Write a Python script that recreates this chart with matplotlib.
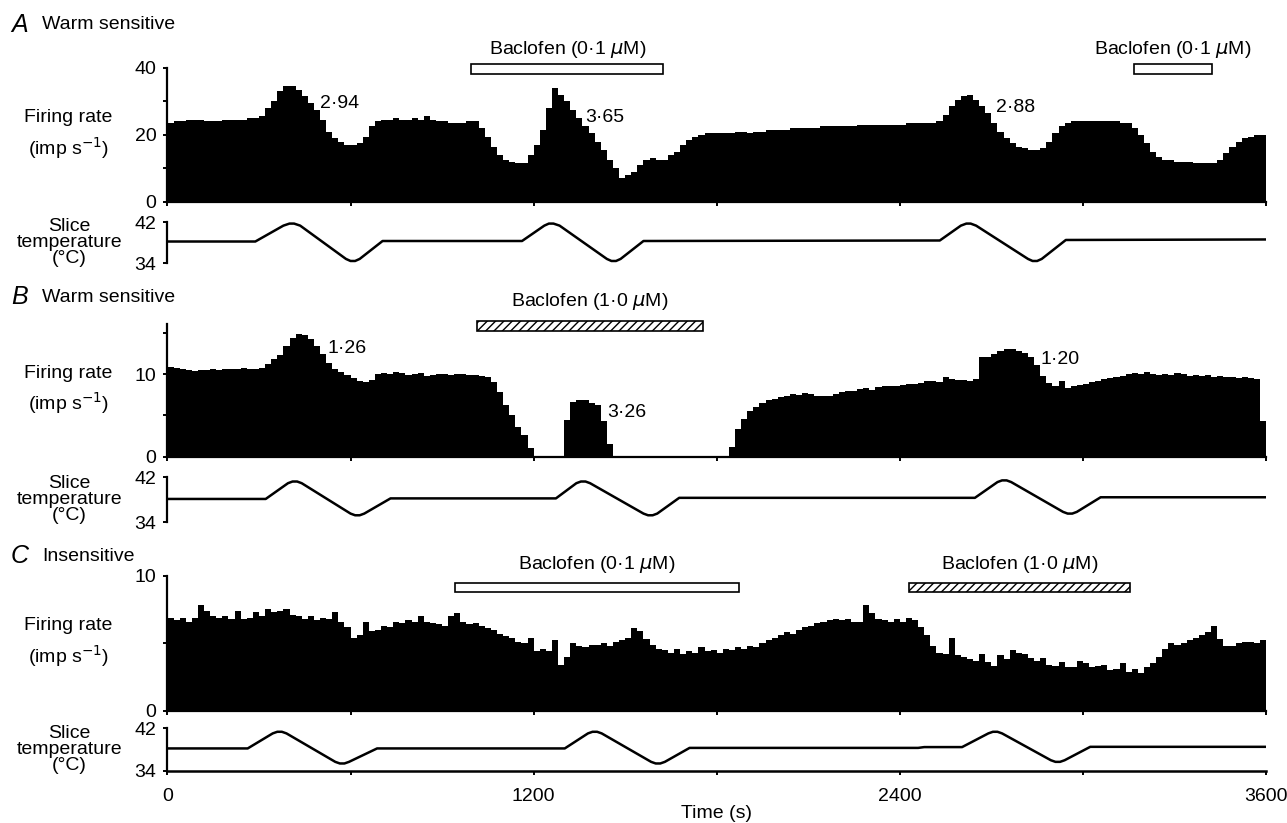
import numpy as np
import matplotlib
matplotlib.use("Agg")
import matplotlib.pyplot as plt
from matplotlib.patches import Rectangle
import matplotlib.transforms as mtransforms

plt.rcParams['font.family'] = ['Liberation Sans', 'DejaVu Sans']
plt.rcParams['mathtext.fontset'] = 'dejavusans'

# bin start times (s), 20 s bins
BIN = 20
t_edges = np.arange(0, 3600 + BIN, BIN)

# Panel A firing rate (imp/s)
rate_A = [23.5, 24, 24, 24.5, 24.5, 24.5, 24, 24, 24, 24.5, 24.5, 24.5, 24.5, 25, 25,
          25.5, 28, 30, 33, 34.5,
          34.5, 33.5, 31.5, 29.5, 27.5,
          24.5, 21, 19, 18, 17,
          17, 17.5, 19.5, 22.5, 24,
          24.5, 24.5, 25, 24.5, 24.5, 25, 24.5, 25.5, 24.5, 24, 24, 23.5, 23.5, 23.5, 24,
          24, 22, 19.5, 16.5, 14,
          12.5, 12, 11.5, 11.5, 14,
          17, 21.5, 28, 34, 32,
          30, 27.5, 25, 22.5, 20.5,
          18, 15.5, 12.5, 10, 7,
          8, 9, 11, 12.5, 13,
          12.5, 12.5, 14, 15, 17,
          18.5, 19.5, 20, 20.5, 20.5,
          20.5, 20.5, 20.5, 21, 21, 20.5, 21, 21, 21.5, 21.5,
          21.5, 21.5, 22, 22, 22, 22, 22, 22.5, 22.5, 22.5,
          22.5, 22.5, 22.5, 23, 23, 23, 23, 23, 23, 23,
          23, 23.5, 23.5, 23.5, 23.5,
          23.5, 24, 26, 28.5, 30.5,
          31.5, 32, 30.5, 28.5, 26.5,
          23.5, 21, 19, 17.5, 16.5,
          16, 15.5, 15.5, 16, 18,
          20.5, 22.5, 23.5, 24, 24,
          24, 24, 24, 24, 24, 24, 23.5, 23.5, 22, 20,
          17.5, 15, 13.5, 12.5, 12.5,
          12, 12, 12, 11.5, 11.5,
          11.5, 11.5, 12.5, 14.5, 16.5,
          18, 19, 19.5, 20, 20]

# Panel B firing rate (imp/s)
rate_B = [10.9, 10.7, 10.6, 10.5, 10.4, 10.5, 10.5, 10.6, 10.5, 10.6, 10.6, 10.6, 10.7, 10.6, 10.6,
          10.7, 11.2, 11.8, 12.3, 13.4,
          14.4, 14.8, 14.7, 14.2, 13.4,
          12.4, 11.3, 10.6, 10.3, 9.9,
          9.5, 9.2, 9.0, 9.3, 10.0,
          10.1, 10.0, 10.2, 10.1, 9.9, 10.0, 10.1, 9.8, 9.9, 10.0, 10.0, 9.9, 10.0, 10.0, 9.9,
          9.9, 9.8, 9.7, 9.0, 7.8,
          6.3, 5.0, 3.6, 2.6, 1.1,
          0, 0, 0, 0, 0,
          4.4, 6.6, 6.8, 6.8, 6.5,
          6.3, 4.3, 1.5, 0, 0,
          0, 0, 0, 0, 0, 0, 0, 0, 0, 0, 0, 0, 0, 0, 0, 0, 0,
          1.2, 3.4, 4.6, 5.5, 6.0, 6.5, 6.8, 7.0,
          7.2, 7.4, 7.6, 7.5, 7.7, 7.6, 7.4, 7.3, 7.4, 7.6,
          7.8, 8.0, 8.0, 8.2, 8.3, 8.1, 8.4, 8.5, 8.6, 8.5,
          8.7, 8.8, 8.8, 8.9, 9.2, 9.1, 9.0, 9.6, 9.4, 9.3,
          9.3, 9.2, 9.4, 12.0, 12.1,
          12.4, 12.8, 13.0, 13.0, 12.8,
          12.6, 12.0, 11.1, 9.8, 8.9,
          8.6, 9.2, 8.3, 8.5, 8.7,
          8.8, 9.0, 9.1, 9.4, 9.5, 9.7, 9.8, 10.0, 10.1, 10.0,
          10.2, 10.0, 9.9, 10.0, 9.9, 10.1, 10.0, 9.8, 9.9, 9.8,
          9.9, 9.7, 9.8, 9.7, 9.6, 9.5, 9.6, 9.5, 9.4, 4.3]

# Panel C firing rate (imp/s)
rate_C = [6.9, 6.7, 6.9, 6.6, 6.9, 7.8, 7.4, 7.0, 6.9, 7.0, 6.8, 7.4, 6.8, 6.9, 7.3,
          7.0, 7.5, 7.3, 7.4, 7.5, 7.1, 7.0, 6.8, 7.0, 6.7,
          6.9, 6.8, 7.3, 6.6, 6.2, 5.4, 5.6, 6.6, 5.9, 6.0,
          6.3, 6.2, 6.6, 6.5, 6.7, 6.6, 7.0, 6.6, 6.5, 6.4,
          6.3, 7.0, 7.2, 6.6, 6.4, 6.5, 6.3, 6.1, 6.0, 5.7,
          5.5, 5.4, 5.1, 5.0, 5.4, 4.4, 4.6, 4.4, 5.2, 3.4,
          4.0, 5.0, 4.8, 4.7, 4.9, 4.9, 5.0, 4.8, 5.1, 5.2,
          5.4, 6.1, 5.9, 5.3, 4.9, 4.6, 4.5, 4.3, 4.6, 4.2,
          4.4, 4.3, 4.7, 4.4, 4.5, 4.3, 4.6, 4.5, 4.7, 4.6,
          4.8, 4.7, 5.0, 5.2, 5.4, 5.6, 5.8, 5.7, 6.0, 6.2,
          6.3, 6.5, 6.6, 6.7, 6.8, 6.7, 6.8, 6.6, 6.6, 7.8,
          7.2, 6.8, 6.7, 6.6, 6.8, 6.6, 6.9, 6.7, 6.2, 5.6,
          4.8, 4.3, 4.2, 5.4, 4.1, 4.0, 3.8, 3.7, 4.2, 3.6,
          3.3, 4.1, 3.8, 4.5, 4.3, 4.2, 3.9, 3.7, 3.9, 3.4,
          3.3, 3.6, 3.2, 3.2, 3.7, 3.5, 3.2, 3.3, 3.4, 3.0,
          3.1, 3.5, 2.9, 3.1, 2.8, 3.2, 3.5, 4.0, 4.6, 5.0,
          4.9, 5.0, 5.2, 5.4, 5.6, 5.8, 6.3, 5.3, 4.8, 4.8,
          5.0, 5.1, 5.1, 5.0, 5.2]

# Slice temperature traces (time s, deg C)
temp_A_t = [0, 288, 380, 400, 415, 435, 585, 600, 615, 630, 705, 1162, 1235, 1250, 1265, 1285, 1440, 1455, 1470, 1485, 1560, 2531, 2600, 2618, 2632, 2650, 2820, 2835, 2850, 2865, 2944, 3600]
temp_A = [38.2, 38.2, 41.3, 41.7, 41.7, 41.3, 34.8, 34.4, 34.4, 34.8, 38.3, 38.3, 41.3, 41.7, 41.7, 41.3, 34.8, 34.4, 34.4, 34.8, 38.3, 38.4, 41.3, 41.7, 41.7, 41.3, 34.8, 34.4, 34.4, 34.8, 38.5, 38.6]

temp_B_t = [0, 322, 395, 410, 425, 440, 600, 615, 630, 645, 731, 1273, 1340, 1355, 1370, 1385, 1560, 1575, 1590, 1605, 1677, 2646, 2720, 2735, 2750, 2765, 2935, 2950, 2965, 2980, 3058, 3600]
temp_B = [38.1, 38.1, 40.9, 41.2, 41.2, 40.9, 35.5, 35.2, 35.2, 35.5, 38.2, 38.2, 40.9, 41.2, 41.2, 40.9, 35.5, 35.2, 35.2, 35.5, 38.3, 38.3, 41.1, 41.4, 41.4, 41.1, 35.8, 35.5, 35.5, 35.8, 38.4, 38.4]

temp_C_t = [0, 263, 345, 360, 375, 390, 550, 565, 580, 595, 687, 1302, 1378, 1393, 1408, 1423, 1585, 1600, 1615, 1630, 1711, 2460, 2480, 2604, 2690, 2705, 2720, 2735, 2895, 2910, 2925, 2940, 3024, 3600]
temp_C = [38.2, 38.2, 41.0, 41.3, 41.3, 41.0, 35.7, 35.4, 35.4, 35.7, 38.2, 38.2, 41.0, 41.3, 41.3, 41.0, 35.7, 35.4, 35.4, 35.7, 38.3, 38.3, 38.45, 38.45, 41.0, 41.3, 41.3, 41.0, 36.0, 35.7, 35.7, 36.0, 38.5, 38.5]

# Baclofen applications: (start s, end s, concentration, hatched)
drug_A = [(995, 1625, '0·1', False), (3166, 3422, '0·1', False)]
drug_B = [(1014, 1755, '1·0', True)]
drug_C = [(941, 1872, '0·1', False), (2429, 3154, '1·0', True)]

# numbers printed next to the peaks: (time, rate, text)
notes_A = [(500, 29.5, '2·94'), (1370, 25.3, '3·65'), (2715, 28.3, '2·88')]
notes_B = [(525, 13.1, '1·26'), (1440, 5.4, '3·26'), (2860, 11.7, '1·20')]
notes_C = []

fig = plt.figure(figsize=(12.87, 8.23), dpi=100)
L, W = 0.1301, 0.8536
FS = 14

panels = [
    dict(letter='A', name='Warm sensitive', rate=rate_A, ylim=(0, 40), yt=[0, 10, 20, 30, 40],
         ytl=['0', '', '20', '', '40'], fire_pos=(0.7549, 0.1625), temp_pos=(0.6804, 0.0498),
         tt=temp_A_t, tv=temp_A, drugs=drug_A, bar_y=(0.958, 1.03), text_y=1.135, notes=notes_A,
         title_y=0.970),
    dict(letter='B', name='Warm sensitive', rate=rate_B, ylim=(0, 16), yt=[0, 5, 10, 15],
         ytl=['0', '', '10', ''], fire_pos=(0.4451, 0.1607), temp_pos=(0.3657, 0.0547),
         tt=temp_B_t, tv=temp_B, drugs=drug_B, bar_y=(0.952, 1.028), text_y=1.172, notes=notes_B,
         title_y=0.639),
    dict(letter='C', name='Insensitive', rate=rate_C, ylim=(0, 10), yt=[0, 5, 10],
         ytl=['0', '', '10'], fire_pos=(0.1365, 0.1640), temp_pos=(0.0632, 0.0522),
         tt=temp_C_t, tv=temp_C, drugs=drug_C, bar_y=(0.877, 0.947), text_y=1.08, notes=notes_C,
         title_y=0.324),
]

for i, p in enumerate(panels):
    ax = fig.add_axes([L, p['fire_pos'][0], W, p['fire_pos'][1]])
    ax.stairs(p['rate'], t_edges, fill=True, color='k', linewidth=0)
    ax.set_xlim(0, 3600)
    ax.set_ylim(*p['ylim'])
    ax.set_yticks(p['yt'])
    ax.set_yticklabels(p['ytl'])
    ax.set_xticks(np.arange(0, 3601, 600))
    ax.set_xticklabels([])
    for s in ['top', 'right']:
        ax.spines[s].set_visible(False)
    for s in ['left', 'bottom']:
        ax.spines[s].set_linewidth(1.6)
    ax.tick_params(axis='both', length=3, width=1.4, labelsize=FS, pad=5)
    ax.text(-0.09, 0.5, 'Firing rate\n(imp s$^{-1}$)', transform=ax.transAxes,
            ha='center', va='center', fontsize=FS, linespacing=1.45)

    trans = mtransforms.blended_transform_factory(ax.transData, ax.transAxes)
    y0, y1 = p['bar_y']
    for (a, b, conc, hatched) in p['drugs']:
        rect = Rectangle((a, y0), b - a, y1 - y0, transform=trans, clip_on=False,
                         facecolor='white', edgecolor='k', linewidth=1.2,
                         hatch='////' if hatched else None)
        ax.add_patch(rect)
        ax.text((a + b) / 2, p['text_y'], 'Baclofen (' + conc + r' $\mu$M)', transform=trans,
                ha='center', va='center', fontsize=FS)
    for (tx, ty, s) in p['notes']:
        ax.text(tx, ty, s, ha='left', va='center', fontsize=FS)

    fig.text(0.0085, p['title_y'], p['letter'], fontsize=18, style='italic', va='center')
    fig.text(0.0326, p['title_y'], p['name'], fontsize=FS, va='center')

    axt = fig.add_axes([L, p['temp_pos'][0], W, p['temp_pos'][1]])
    axt.plot(p['tt'], p['tv'], color='k', linewidth=1.8)
    axt.set_xlim(0, 3600)
    axt.set_ylim(34, 42)
    axt.set_yticks([34, 42])
    axt.set_yticklabels(['34', '42'])
    for s in ['top', 'right']:
        axt.spines[s].set_visible(False)
    axt.spines['left'].set_linewidth(1.6)
    axt.tick_params(axis='both', length=3, width=1.4, labelsize=FS, pad=5)
    axt.text(-0.089, 0.5, 'Slice\ntemperature\n(°C)', transform=axt.transAxes,
             ha='center', va='center', fontsize=FS, linespacing=0.95)
    if i < 2:
        axt.spines['bottom'].set_visible(False)
        axt.set_xticks([])
    else:
        axt.spines['bottom'].set_linewidth(1.8)
        axt.set_xticks(np.arange(0, 3601, 600))
        axt.set_xticklabels(['0', '', '1200', '', '2400', '', '3600'])
        axt.tick_params(axis='x', pad=9)
        axt.set_xlabel('Time (s)', fontsize=FS, labelpad=0)

fig.savefig('out.png', dpi=100)
